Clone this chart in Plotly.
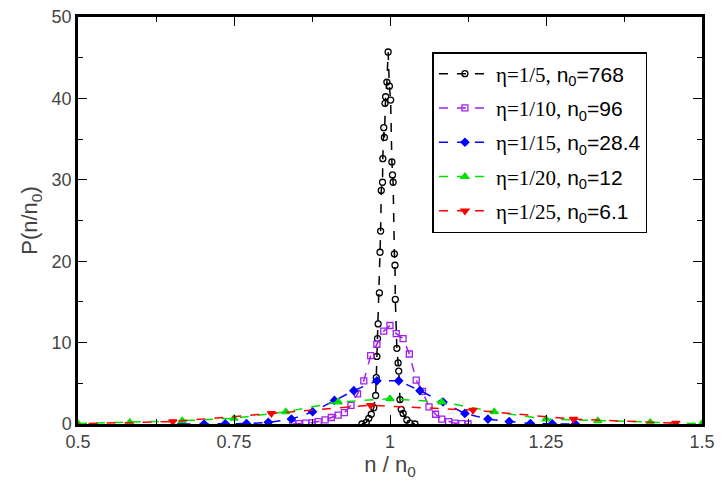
import plotly.graph_objects as go

# eta = 1/5, n0 = 768
x_k = [0.955, 0.962, 0.966, 0.970, 0.974, 0.977, 0.978, 0.979, 0.980, 0.981, 0.983, 0.984,
       0.985, 0.986, 0.988, 0.9885, 0.990, 0.991, 0.992, 0.993, 0.995, 0.997, 0.999, 1.001,
       1.003, 1.004, 1.005, 1.007, 1.008, 1.0085, 1.011, 1.013, 1.014, 1.016, 1.018, 1.021,
       1.027, 1.032, 1.040]
y_k = [0.0, 0.2, 0.7, 1.2, 2.0, 3.5, 5.7, 8.3, 10.5, 12.3, 16.1, 21.1,
       23.7, 28.7, 29.7, 32.6, 36.4, 35.2, 39.4, 40.2, 42.0, 45.7, 41.5, 39.8,
       32.2, 30.6, 29.7, 20.9, 19.5, 15.3, 9.3, 7.5, 6.5, 3.0, 1.8, 1.3,
       0.5, 0.1, 0.0]

# eta = 1/10, n0 = 96
x_p = [0.844, 0.854, 0.865, 0.875, 0.885, 0.896, 0.906, 0.917, 0.927, 0.9375, 0.948, 0.958,
       0.969, 0.979, 0.990, 1.000, 1.010, 1.021, 1.031, 1.042, 1.052, 1.0625, 1.073, 1.083,
       1.094, 1.104, 1.115, 1.125]
y_p = [0.0, 0.05, 0.1, 0.15, 0.3, 0.5, 0.8, 1.1, 1.4, 2.3, 3.7, 5.3,
       8.4, 9.8, 11.4, 12.1, 11.1, 10.5, 8.6, 5.4, 4.0, 2.1, 1.2, 0.6,
       0.3, 0.1, 0.05, 0.0]

# eta = 1/15, n0 = 28.4
x_b = [0.666, 0.702, 0.736, 0.770, 0.805, 0.842, 0.876, 0.911, 0.942, 0.979, 1.014, 1.048,
       1.085, 1.120, 1.157, 1.191, 1.225, 1.260, 1.297]
y_b = [0.0, 0.0, 0.02, 0.05, 0.2, 0.6, 1.5, 2.9, 4.1, 5.3, 5.3, 4.1,
       2.7, 1.3, 0.6, 0.3, 0.05, 0.02, 0.0]

# eta = 1/20, n0 = 12
x_g = [0.5, 0.583, 0.667, 0.75, 0.833, 0.917, 1.0, 1.083, 1.167, 1.25, 1.333, 1.417, 1.5]
y_g = [0.05, 0.2, 0.4, 0.7, 1.5, 2.7, 3.1, 2.7, 1.5, 0.6, 0.4, 0.2, 0.05]

# eta = 1/25, n0 = 6.1
x_r = [0.488, 0.652, 0.810, 0.969, 1.133, 1.294, 1.458]
y_r = [0.02, 0.3, 1.3, 2.3, 1.7, 0.6, 0.1]

x_ticks = [0.5, 0.75, 1, 1.25, 1.5]
x_tick_labels = ["0.5", "0.75", "1", "1.25", "1.5"]
y_ticks = [0, 10, 20, 30, 40, 50]

SERIF = "Liberation Serif"
names = [
    f'<span style="font-family:{SERIF}">η=1/5,</span> n<sub>0</sub>=768',
    f'<span style="font-family:{SERIF}">η=1/10,</span> n<sub>0</sub>=96',
    f'<span style="font-family:{SERIF}">η=1/15,</span> n<sub>0</sub>=28.4',
    f'<span style="font-family:{SERIF}">η=1/20,</span> n<sub>0</sub>=12',
    f'<span style="font-family:{SERIF}">η=1/25,</span> n<sub>0</sub>=6.1',
]

series = [
    (x_k, y_k, "black", "circle-open", 6),
    (x_p, y_p, "#a020f0", "square-open", 6),
    (x_b, y_b, "blue", "diamond", 6),
    (x_g, y_g, "#00e000", "triangle-up", 7),
    (x_r, y_r, "red", "triangle-down", 7),
]

fig = go.Figure()
for i, ((xs, ys, c, sym, sz), nm) in enumerate(zip(series, names)):
    fig.add_trace(go.Scatter(
        x=xs, y=ys, mode="lines+markers", name=nm, legendgroup=f"g{i}",
        line=dict(color=c, width=1.5, dash="dash"),
        marker=dict(symbol=sym, size=sz, color=c, line=dict(color=c, width=1.3)),
        cliponaxis=True,
    ))

axis_common = dict(
    showline=True, linecolor="black", linewidth=2.5, mirror="ticks",
    ticks="inside", ticklen=9, tickwidth=1.2, tickcolor="black",
    showgrid=False, zeroline=False,
    tickfont=dict(family="Liberation Sans", size=18, color="#444"),
)

fig.update_layout(
    width=722, height=488,
    margin=dict(l=78, r=14, t=7, b=64),
    plot_bgcolor="white", paper_bgcolor="white",
    showlegend=True,
    legend=dict(
        x=0.568, y=0.914, xanchor="left", yanchor="top",
        bordercolor="black", borderwidth=1.5, bgcolor="white",
        font=dict(family="Liberation Sans", size=21, color="black"),
        tracegroupgap=4, itemwidth=52,
    ),
    xaxis=dict(
        range=[0.5, 1.5], tickvals=x_ticks, ticktext=x_tick_labels,
        minor=dict(dtick=0.125, tick0=0.5, ticks="inside", ticklen=5, tickcolor="black"),
        title=dict(text="n / n<sub>0</sub>", font=dict(family="Liberation Sans", size=22, color="#444"), standoff=6),
        **axis_common,
    ),
    yaxis=dict(
        range=[0, 50], tickvals=y_ticks,
        minor=dict(dtick=5, tick0=0, ticks="inside", ticklen=5, tickcolor="black"),
        title=dict(text="P(n/n<sub>0</sub>)", font=dict(family="Liberation Sans", size=22, color="#444"), standoff=8),
        **axis_common,
    ),
)

fig.write_html("out.html")
